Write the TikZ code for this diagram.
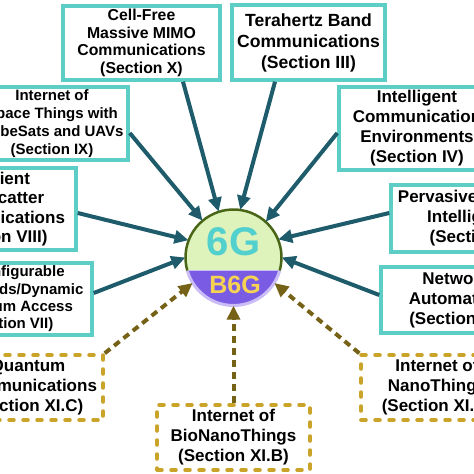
\documentclass[tikz,border=0pt]{standalone}
\usepackage{fontspec}
\setmainfont{Liberation Sans}
\usetikzlibrary{arrows.meta}
\definecolor{cturq}{RGB}{92,206,198}
\definecolor{cteal}{RGB}{30,92,108}
\definecolor{cgold}{RGB}{201,164,40}
\definecolor{cbrown}{RGB}{118,98,22}
\definecolor{cgreen}{RGB}{222,242,188}
\definecolor{cpurple}{RGB}{122,92,228}
\definecolor{clilac}{RGB}{202,188,246}
\definecolor{colive}{RGB}{72,102,22}
\definecolor{csixg}{RGB}{82,208,206}
\definecolor{cbsixg}{RGB}{246,212,82}
\tikzset{
  box/.style={draw=cturq, line width=3.5pt, fill=white, inner sep=0pt, align=center},
  dbox/.style={draw=cgold, line width=3.5pt, dash pattern=on 5pt off 9pt, line cap=round, fill=white, inner sep=0pt, align=center},
  arr/.style={draw=cteal, line width=4pt, -{Triangle[length=14pt,width=13pt]}},
  darr/.style={draw=cbrown, line width=4pt, dash pattern=on 7pt off 5pt, -{Triangle[length=14pt,width=13pt]}},
  fs/.style={font=\bfseries\fontsize{17}{20}\selectfont}
}
\begin{document}
\begin{tikzpicture}[x=1pt,y=-1pt]
\useasboundingbox (0,0) rectangle (474,474);
\fill[white] (0,0) rectangle (474,474);
\clip (0,0) rectangle (474,474);

% boxes
\node[box, minimum width=157pt, minimum height=74pt, font=\bfseries\fontsize{15.8}{17.7}\selectfont] (cf) at (141.5,43)
  {Cell-Free\\Massive MIMO\\Communications\\(Section X)};
\node[box, minimum width=153pt, minimum height=75pt, font=\bfseries\fontsize{17.6}{21}\selectfont] (th) at (308.5,42.5)
  {Terahertz Band\\Communications\\(Section III)};
\node[box, fs, minimum width=156pt, minimum height=83pt] (ic) at (417,128.5)
  {Intelligent\\Communication\\Environments\\(Section IV)};
\node[box, minimum width=152pt, minimum height=73pt, font=\bfseries\fontsize{15}{18}\selectfont] (ist) at (52,123.5)
  {Internet of\\Space Things with\\CubeSats and UAVs\\(Section IX)};
\node[box, minimum width=160pt, minimum height=82pt, font=\bfseries\fontsize{17}{19.3}\selectfont] (ab) at (-4,209)
  {Ambient\\Backscatter\\Communications\\(Section VIII)};
\node[box, minimum width=164pt, minimum height=72pt, font=\bfseries\fontsize{15}{17.4}\selectfont] (rc) at (10,299)
  {Reconfigurable\\Front-Ends/Dynamic\\Spectrum Access\\(Section VII)};
\node[box, fs, minimum width=166pt, minimum height=67pt] (pa) at (474,218.5)
  {Pervasive Artificial\\Intelligence\\(Section V)};
\node[box, fs, minimum width=150pt, minimum height=66pt] (na) at (456,300)
  {Network\\Automation\\(Section VI)};
\node[dbox, fs, minimum width=150pt, minimum height=65pt] (qc) at (28,387.5)
  {Quantum\\Communications\\(Section XI.C)};
\node[dbox, fs, minimum width=153pt, minimum height=65pt] (bn) at (233.5,437.5)
  {Internet of\\BioNanoThings\\(Section XI.B)};
\node[dbox, fs, minimum width=152pt, minimum height=65pt] (nt) at (437,387.5)
  {Internet of\\NanoThings\\(Section XI.A)};

% central circle
\node[circle, minimum size=96pt, inner sep=0pt] (c) at (233.5,257.5) {};
\begin{scope}[shift={(c.center)}, x=1pt, y=1pt]
  \begin{scope}
    \clip (0,0) circle[radius=48];
    \fill[cgreen] (-50,-13) rectangle (50,50);
    \fill[cpurple] (-50,-13) rectangle (50,-50);
  \end{scope}
  \draw[clilac, line width=1.5pt] (-46.2,-13) -- (46.2,-13);
  \draw[clilac, line width=3pt] (-15.7:48) arc[start angle=-15.7, end angle=-164.3, radius=48];
  \draw[colive, line width=2.5pt] (-15.7:48) arc[start angle=-15.7, end angle=195.7, radius=48];
  \node[text=csixg, font=\bfseries\fontsize{40}{40}\selectfont] (sixg) at (0,16) {6G};
  \node[text=cbsixg, font=\bfseries\fontsize{25}{25}\selectfont] (bsixg) at (1.5,-27) {B6G};
\end{scope}

% arrows
\draw[arr] ([xshift=41.5pt]cf.south) -- (c.108.1);
\draw[arr] ([xshift=-33.5pt]th.south) -- (c.82.9);
\draw[arr] ([yshift=-9.5pt]ist.east) -- (c.130.7);
\draw[arr] ([yshift=-4.5pt]ic.west) -- (c.48.8);
\draw[arr] ([yshift=-4pt]ab.east) -- (c.159.1);
\draw[arr] ([yshift=6pt]rc.east) -- (c.180.6);
\draw[arr] ([yshift=5.5pt]pa.west) -- (c.22.3);
\draw[arr] ([yshift=5pt]na.west) -- (c.-0.6);
\draw[darr] (qc.north east) -- (c.212.3);
\draw[darr] (bn.north) -- (c.270);
\draw[darr] (nt.north west) -- (c.-32.3);
\end{tikzpicture}
\end{document}
